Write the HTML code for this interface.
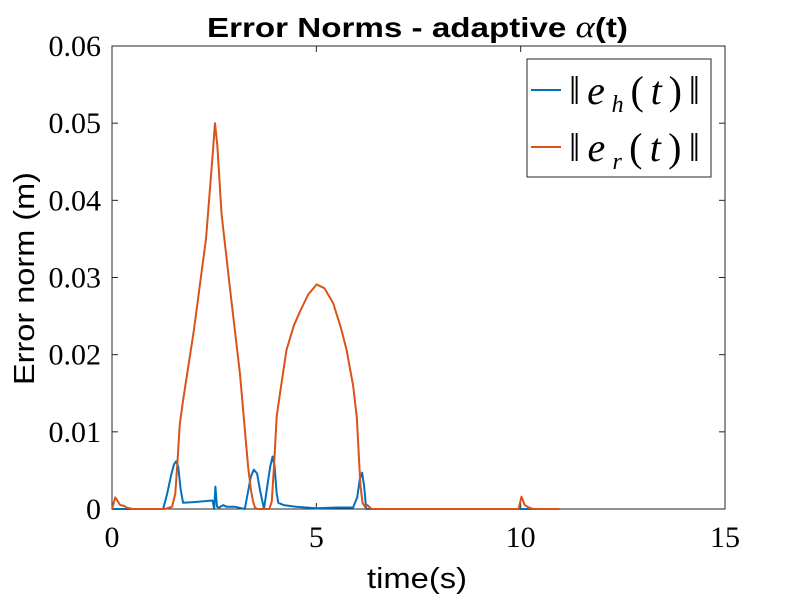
<!DOCTYPE html>
<html><head><meta charset="utf-8"><style>
body{margin:0;background:#fff;}
svg text{font-family:"Liberation Serif",serif;}
</style></head><body>
<svg width="800" height="600" xmlns="http://www.w3.org/2000/svg">
<rect width="800" height="600" fill="#fff"/>
<g id="plot"></g>
<text x="207" y="37" textLength="421" lengthAdjust="spacingAndGlyphs" style="font-family:'Liberation Sans',sans-serif;font-weight:bold;font-size:28px">Error Norms - adaptive <tspan style="font-family:'Liberation Serif',serif;font-style:italic;font-weight:normal;font-size:31px">α</tspan>(t)</text>
<text x="367" y="588" textLength="100" lengthAdjust="spacingAndGlyphs" style="font-family:'Liberation Sans',sans-serif;font-size:29px">time(s)</text>
<text transform="translate(34,385) rotate(-90)" textLength="213" lengthAdjust="spacingAndGlyphs" style="font-family:'Liberation Sans',sans-serif;font-size:29px">Error norm (m)</text>
<g>
<rect x="527" y="59" width="184" height="118" fill="#fff" stroke="#262626" stroke-width="1"/>
<line x1="531" y1="90" x2="561" y2="90" stroke="#0072BD" stroke-width="2"/>
<text x="569" y="104" font-size="40" textLength="131" lengthAdjust="spacing">‖<tspan font-style="italic">e</tspan><tspan font-style="italic" font-size="24" dy="8">h</tspan><tspan dy="-8">(</tspan><tspan font-style="italic">t</tspan>)‖</text>
<line x1="531" y1="147" x2="561" y2="147" stroke="#D95319" stroke-width="2"/>
<text x="569" y="161" font-size="40" textLength="131" lengthAdjust="spacing">‖<tspan font-style="italic">e</tspan><tspan font-style="italic" font-size="24" dy="8">r</tspan><tspan dy="-8">(</tspan><tspan font-style="italic">t</tspan>)‖</text>
</g>
</svg>
<script>
const xTicks=[0,5,10,15];
const yTicks=[0,0.01,0.02,0.03,0.04,0.05,0.06];
const yTickLabels=["0","0.01","0.02","0.03","0.04","0.05","0.06"];
const ehT=[0,1.25,1.35,1.45,1.52,1.57,1.62,1.68,1.74,2.0,2.46,2.5,2.53,2.57,2.62,2.72,2.8,3.0,3.25,3.32,3.4,3.47,3.55,3.62,3.72,3.8,3.87,3.93,3.98,4.03,4.07,4.2,4.5,5.0,5.5,5.9,6.0,6.06,6.12,6.17,6.22,8,10.95];
const ehV=[0,0,0.002,0.0045,0.0058,0.0062,0.0055,0.0025,0.0008,0.0009,0.0011,0,0.0029,0.0003,0.0002,0.0005,0.0003,0.0003,0,0.002,0.0042,0.0051,0.0046,0.0025,0,0.003,0.0055,0.0068,0.0055,0.002,0.0008,0.0005,0.0003,0.0001,0.0002,0.0002,0.0015,0.0038,0.0047,0.003,0,0,0];
const erT=[0,0.08,0.2,0.3,0.35,0.5,1.3,1.47,1.55,1.6,1.66,1.74,2.0,2.3,2.45,2.52,2.58,2.68,2.9,3.13,3.33,3.4,3.45,3.5,3.55,3.85,3.91,3.97,4.03,4.11,4.27,4.45,4.6,4.8,5.01,5.2,5.41,5.6,5.74,5.9,5.99,6.05,6.08,6.13,6.2,6.25,6.35,9.95,10.02,10.1,10.2,10.3,10.95];
const erV=[0,0.0015,0.0005,0.0004,0.0002,0,0,0.0003,0.002,0.006,0.011,0.0141,0.023,0.035,0.045,0.050,0.047,0.0383,0.028,0.0176,0.0055,0.0025,0.001,0.0002,0,0,0.001,0.006,0.012,0.015,0.0206,0.0238,0.0256,0.0278,0.0291,0.0286,0.0267,0.0235,0.0206,0.016,0.0119,0.006,0.003,0.0008,0.0002,0.0005,0,0,0.0016,0.0005,0.0002,0,0];
const X0=112,X1=725,Y0=509,Y1=46;
const xs=t=>X0+(t-0)/15*(X1-X0);
const ys=v=>Y0-(v/0.06)*(Y0-Y1);
const NS="http://www.w3.org/2000/svg";
const g=document.getElementById('plot');
function mk(tag,attrs){const e=document.createElementNS(NS,tag);for(const k in attrs)e.setAttribute(k,attrs[k]);g.appendChild(e);return e;}
const ax=mk('rect',{x:X0,y:Y1,width:X1-X0,height:Y0-Y1,fill:'#fff',stroke:'#262626','stroke-width':1});


xTicks.forEach(t=>{
 const x=xs(t);
 mk('line',{x1:x,y1:Y0,x2:x,y2:Y0-6,stroke:'#262626'});
 mk('line',{x1:x,y1:Y1,x2:x,y2:Y1+6,stroke:'#262626'});
 const tx=mk('text',{x:x,y:Y0+38,'text-anchor':'middle','font-size':'30'});
 tx.textContent=String(t);
 
 
});
yTicks.forEach((v,i)=>{
 const y=ys(v);
 mk('line',{x1:X0,y1:y,x2:X0+6,y2:y,stroke:'#262626'});
 mk('line',{x1:X1,y1:y,x2:X1-6,y2:y,stroke:'#262626'});
 const tx=mk('text',{x:X0-11,y:y+10,'text-anchor':'end','font-size':'30'});
 tx.textContent=yTickLabels[i];
 
 
});
function line(T,V,color,name){
 const d=T.map((t,i)=>(i?'L':'M')+xs(t).toFixed(1)+','+ys(V[i]).toFixed(1)).join('');
 const p=mk('path',{d:d,fill:'none',stroke:color,'stroke-width':2,'stroke-linejoin':'round'});
 
 
}
line(ehT,ehV,'#0072BD','series-eh-line');
line(erT,erV,'#D95319','series-er-line');
</script>
</body></html>
